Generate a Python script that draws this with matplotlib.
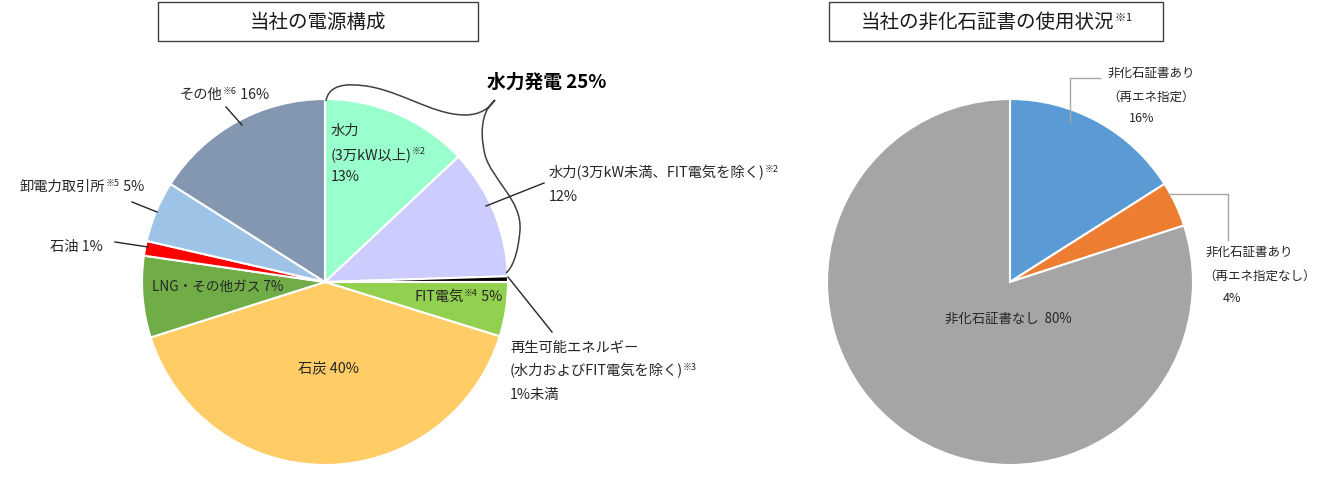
import matplotlib
matplotlib.use("Agg")
import matplotlib.pyplot as plt
from matplotlib.patches import Rectangle, PathPatch
from matplotlib.path import Path

plt.rcParams['font.family'] = ['Noto Sans CJK JP', 'DejaVu Sans']

# ---- data ----
mix_labels = ["水力(3万kW以上)", "水力(3万kW未満、FIT電気を除く)", "再生可能エネルギー",
              "FIT電気", "石炭", "LNG・その他ガス", "石油", "卸電力取引所", "その他"]
mix_values = [13, 11.5, 0.5, 4.8, 40.3, 7.2, 1.3, 5.4, 16]
mix_colors = ["#99FFCC", "#CCCCFF", "#000000", "#92D050", "#FFCC66",
              "#70AD47", "#FF0000", "#9DC3E6", "#8497B0"]

cert_labels = ["非化石証書あり（再エネ指定）", "非化石証書あり（再エネ指定なし）", "非化石証書なし"]
cert_values = [16, 4, 80]
cert_colors = ["#5B9BD5", "#ED7D31", "#A5A5A5"]

W, H = 1330, 479
fig = plt.figure(figsize=(W / 100, H / 100), dpi=100)


def pie_axes(cx, cy, r):
    return fig.add_axes([(cx - r) / W, (H - cy - r) / H, 2 * r / W, 2 * r / H])


ax1 = pie_axes(325, 282, 183)
ax1.pie(mix_values, colors=mix_colors, startangle=90, counterclock=False, radius=1,
        wedgeprops=dict(edgecolor="white", linewidth=1.5))
ax1.set_xlim(-1, 1); ax1.set_ylim(-1, 1); ax1.set_aspect('equal'); ax1.axis('off')

ax2 = pie_axes(1010, 282, 183)
ax2.pie(cert_values, colors=cert_colors, startangle=90, counterclock=False, radius=1,
        wedgeprops=dict(edgecolor="white", linewidth=1.5))
ax2.set_xlim(-1, 1); ax2.set_ylim(-1, 1); ax2.set_aspect('equal'); ax2.axis('off')

# overlay in pixel coordinates
ov = fig.add_axes([0, 0, 1, 1])
ov.set_xlim(0, W); ov.set_ylim(H, 0); ov.axis('off')

renderer = fig.canvas.get_renderer()
TXT = "#262626"


def rich(x, y, parts, ha='left', color=TXT):
    """parts: list of (text, fontsize, weight, raise_px)"""
    items = []
    total = 0
    for s, fs, w, dy in parts:
        t = ov.text(0, 0, s, fontsize=fs, fontweight=w, color=color, va='center', ha='left')
        wd = t.get_window_extent(renderer=renderer).width
        items.append((t, wd, dy))
        total += wd
    x0 = x if ha == 'left' else (x - total / 2 if ha == 'center' else x - total)
    for t, wd, dy in items:
        t.set_position((x0, y - dy))
        x0 += wd


FS = 10.3
SUP = 6.5
# ---- titles ----
ov.add_patch(Rectangle((158, 2), 320, 39, fill=False, edgecolor="#404040", linewidth=1))
rich(318, 22, [("当社の電源構成", 14, 'normal', 0)], ha='center', color="#1a1a1a")
ov.add_patch(Rectangle((829, 2), 334, 39, fill=False, edgecolor="#404040", linewidth=1))
rich(996, 22, [("当社の非化石証書の使用状況", 14, 'normal', 0), ("※", 8, 'normal', 4), ("1", 8, 'normal', 4)],
     ha='center', color="#1a1a1a")

# ---- left pie labels ----
rich(180, 95, [("その他", FS, 'normal', 0), ("※6", SUP, 'normal', 4), (" 16%", FS, 'normal', 0)])
ov.plot([226, 242], [107, 125], color=TXT, lw=1)

rich(331, 131, [("水力", FS, 'normal', 0)])
rich(331, 155, [("(3万kW以上)", FS, 'normal', 0), ("※2", SUP, 'normal', 4)])
rich(331, 177, [("13%", FS, 'normal', 0)])

rich(549, 173, [("水力(3万kW未満、FIT電気を除く)", FS, 'normal', 0), ("※2", SUP, 'normal', 4)])
rich(549, 197, [("12%", FS, 'normal', 0)])
ov.plot([486, 544], [206, 183], color=TXT, lw=1)

rich(510, 348, [("再生可能エネルギー", FS, 'normal', 0)])
rich(510, 371, [("(水力およびFIT電気を除く)", FS, 'normal', 0), ("※3", SUP, 'normal', 4)])
rich(510, 395, [("1%未満", FS, 'normal', 0)])
ov.plot([508, 552], [277, 332], color=TXT, lw=1)

rich(502, 297, [("FIT電気", FS, 'normal', 0), ("※4", SUP, 'normal', 4), (" 5%", FS, 'normal', 0)], ha='right')
rich(328, 368, [("石炭 40%", FS, 'normal', 0)], ha='center')
rich(152, 287, [("LNG・その他ガス 7%", 9.8, 'normal', 0)])
rich(50, 247, [("石油 1%", FS, 'normal', 0)])
ov.plot([115, 148], [242, 247], color=TXT, lw=1)
rich(20, 187, [("卸電力取引所", FS, 'normal', 0), ("※5", SUP, 'normal', 4), (" 5%", FS, 'normal', 0)])
ov.plot([132, 157], [202, 212], color=TXT, lw=1)

rich(487, 82, [("水力発電 25%", 13.5, 'bold', 0)], color="#000000")

# curly brace around hydro slices
verts = [(326, 101),
         (328, 88), (340, 84), (355, 85),
         (395, 86), (430, 115), (465, 115),
         (480, 115), (490, 108), (495, 100),
         (485, 108), (478, 125), (485, 155),
         (492, 180), (522, 200), (520, 230),
         (518, 255), (512, 268), (506, 273)]
codes = [Path.MOVETO] + [Path.CURVE4] * 18
ov.add_patch(PathPatch(Path(verts, codes), fill=False, edgecolor="#404040", lw=1.1))

# ---- right pie labels ----
RFS = 9
rich(1151, 73, [("非化石証書あり", RFS, 'normal', 0)], ha='center')
rich(1151, 97, [("（再エネ指定）", RFS, 'normal', 0)], ha='center')
rich(1142, 118, [("16%", RFS, 'normal', 0)], ha='center')
ov.plot([1070, 1070, 1100], [122, 78, 78], color="#A6A6A6", lw=1)

rich(1205, 252, [("非化石証書あり", RFS, 'normal', 0)])
rich(1260, 276, [("（再エネ指定なし）", RFS, 'normal', 0)], ha='center')
rich(1223, 298, [("4%", RFS, 'normal', 0)])
ov.plot([1168, 1228, 1228], [194, 194, 240], color="#A6A6A6", lw=1)

rich(1008, 319, [("非化石証書なし  80%", 9.6, 'normal', 0)], ha='center')

fig.savefig("out.png", dpi=100)
